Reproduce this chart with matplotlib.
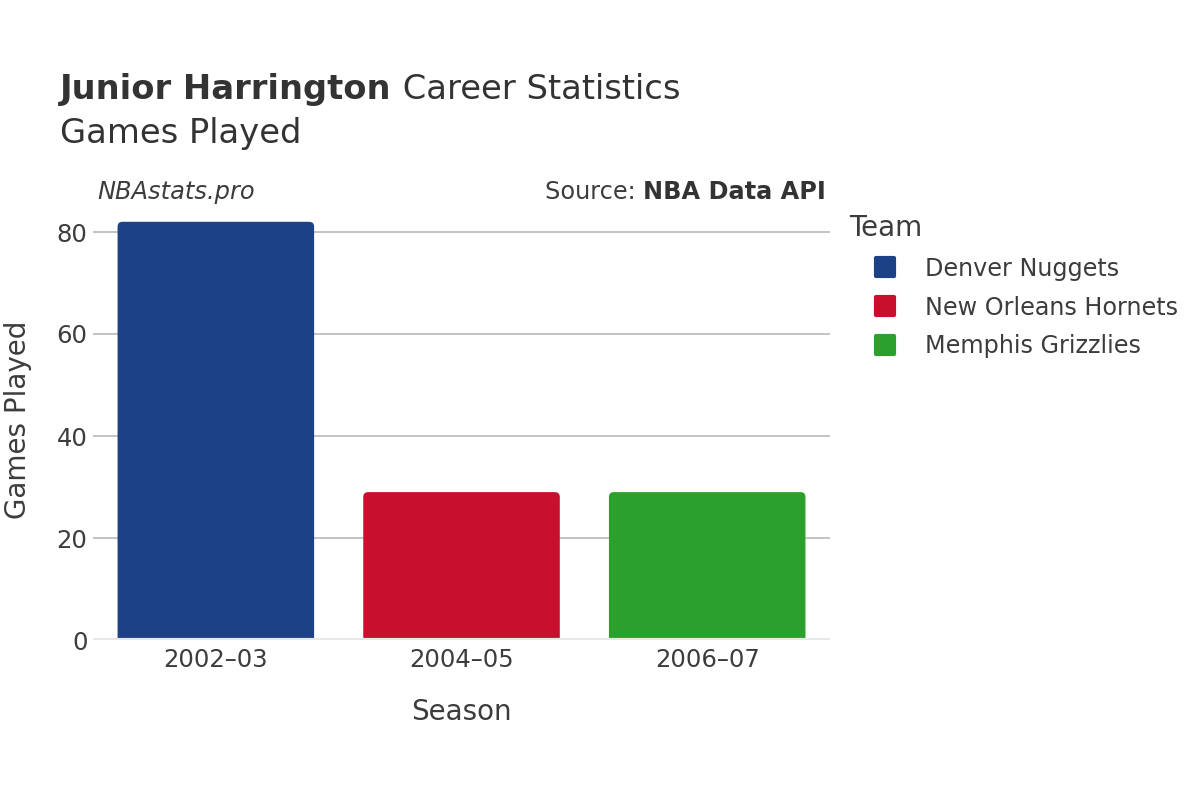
import matplotlib.pyplot as plt
from matplotlib.patches import FancyBboxPatch
from matplotlib.lines import Line2D
from matplotlib.markers import MarkerStyle
import numpy as np

seasons = ['2002–03', '2004–05', '2006–07']
teams = ['Denver Nuggets', 'New Orleans Hornets', 'Memphis Grizzlies']
games = [82, 29, 29]
colors = ['#1c4186', '#c8102e', '#2ca02c']
yticks = [0, 20, 40, 60, 80]

txt = '#3c3c3c'
plt.rcParams['font.family'] = 'DejaVu Sans'

fig = plt.figure(figsize=(12, 8), dpi=100)
ax = fig.add_axes([0.0775, 0.2, 0.6142, 0.5355])

x = np.arange(len(seasons))
w = 0.8
for xi, g, c in zip(x, games, colors):
    p = FancyBboxPatch((xi - w / 2, -2), w, g + 2,
                       boxstyle='round,pad=0,rounding_size=0.02',
                       mutation_aspect=48, fc=c, ec='none', zorder=3)
    ax.add_patch(p)

ax.set_xlim(-0.5, 2.5)
ax.set_ylim(0, 84)
ax.set_yticks(yticks)
ax.set_xticks(x)
ax.set_xticklabels(seasons)
ax.grid(axis='y', color='#b3b3b3', lw=1.1, zorder=0)
ax.axhline(0, color='#e8e8e8', lw=3, zorder=4)
for s in ax.spines.values():
    s.set_visible(False)
ax.tick_params(length=0, labelsize=17.5, labelcolor=txt)
ax.tick_params(axis='y', pad=4)
ax.tick_params(axis='x', pad=6)

fig.text(0.5 * (93 + 830) / 1200, 1 - 712 / 800, 'Season', ha='center', va='center',
         fontsize=20, color=txt)
fig.text(18 / 1200, 1 - 420 / 800, 'Games Played', ha='center', va='center',
         rotation=90, fontsize=20, color=txt)

t1 = fig.text(60 / 1200, 1 - 99 / 800, 'Junior Harrington', fontsize=24.3,
              fontweight='bold', color='#333333', va='baseline')
ax.annotate(' Career Statistics', xy=(1, 0), xycoords=t1, fontsize=24.3,
            color='#333333', va='bottom', ha='left', annotation_clip=False)
fig.text(60 / 1200, 1 - 143 / 800, 'Games Played', fontsize=24.3,
         color='#333333', va='baseline')

fig.text(97 / 1200, 1 - 199 / 800, 'NBAstats.pro', fontsize=17.4, style='italic',
         color=txt, va='baseline')
t2 = fig.text(826 / 1200, 1 - 199 / 800, 'NBA Data API', fontsize=17.3,
              fontweight='bold', color='#333333', ha='right', va='baseline')
ax.annotate('Source: ', xy=(0, 0), xycoords=t2, fontsize=17.3, color=txt,
            va='bottom', ha='right', annotation_clip=False)

sq = MarkerStyle('s', joinstyle='round')
handles = [Line2D([], [], ls='none', marker=sq, markersize=13, mfc=c, mec=c,
                  mew=3) for c in colors]
leg = fig.legend(handles, teams, title='Team', loc='upper left',
                 bbox_to_anchor=(849 / 1200, 1 - 214 / 800), frameon=False,
                 fontsize=17.2, title_fontsize=20, labelcolor=txt,
                 handlelength=3.0, handletextpad=0.2, labelspacing=0.62,
                 borderpad=0, borderaxespad=0)
leg.get_title().set_color(txt)
leg._legend_box.align = 'left'

fig.savefig('out.png', dpi=100)
